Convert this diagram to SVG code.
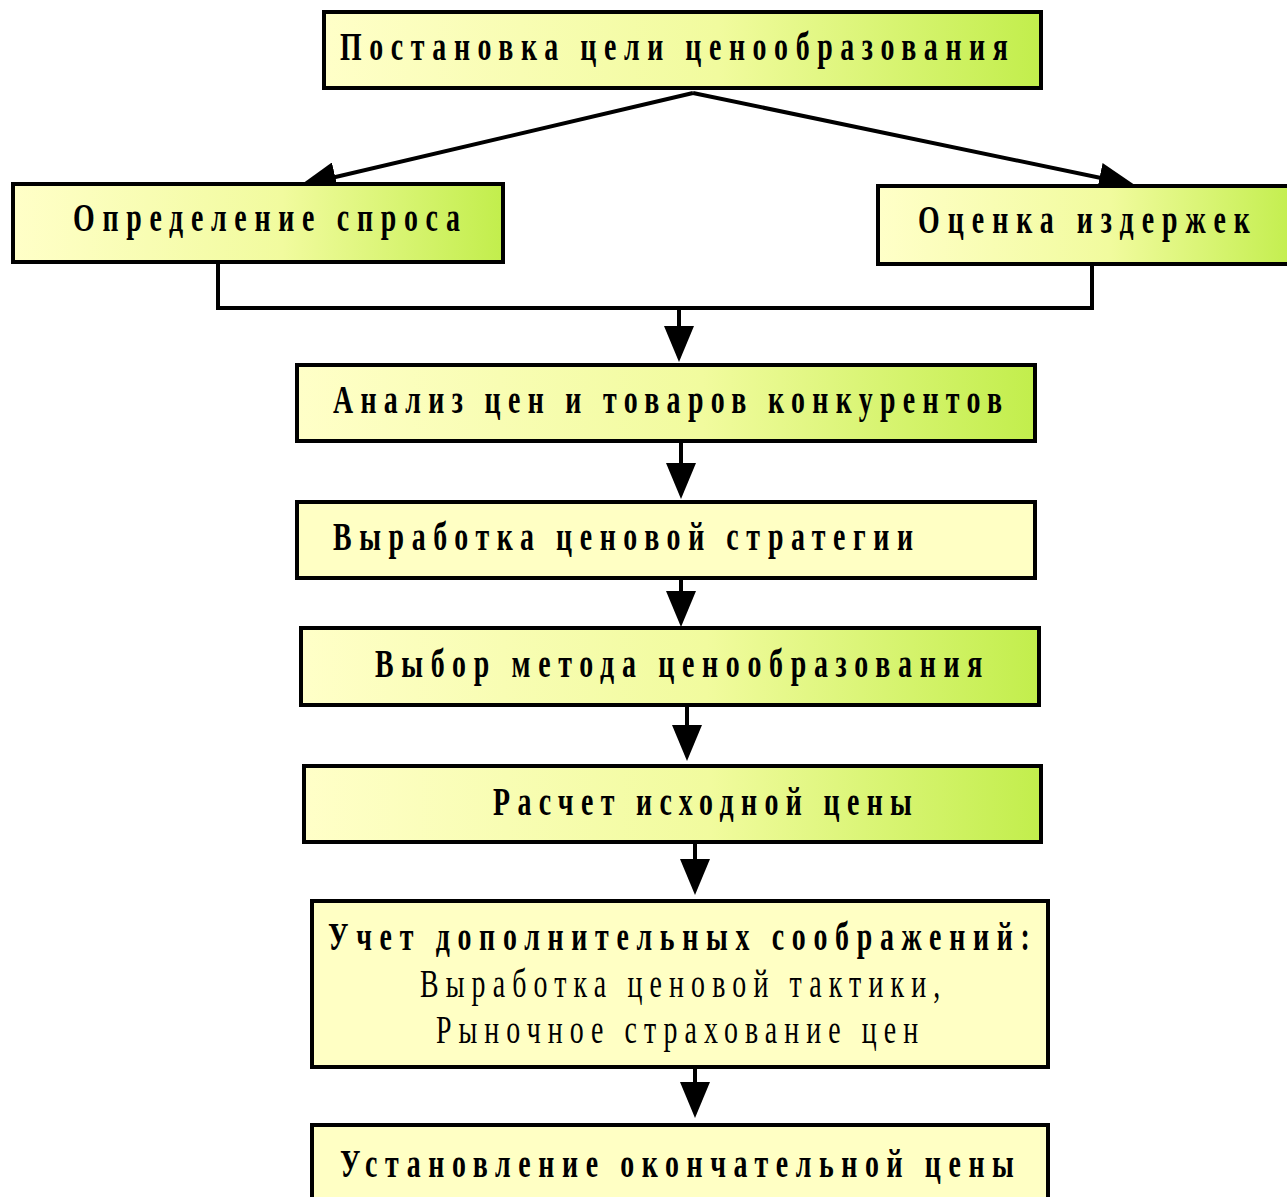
<svg xmlns="http://www.w3.org/2000/svg" width="1287" height="1197" viewBox="0 0 1287 1197">
  <defs>
    <linearGradient id="g" x1="0" y1="0" x2="1" y2="0">
      <stop offset="0" stop-color="#ffffc8"/>
      <stop offset="0.55" stop-color="#f1fb9e"/>
      <stop offset="1" stop-color="#c2ee4c"/>
    </linearGradient>
    <marker id="ah" viewBox="0 0 36 30" refX="26" refY="15" markerWidth="36" markerHeight="30" markerUnits="userSpaceOnUse" orient="auto">
      <path d="M0,0 L36,15 L0,30 z" fill="#000"/>
    </marker>
    <style>
      .box { stroke: #000; stroke-width: 4; }
      .gr { fill: url(#g); }
      .pl { fill: #ffffc4; }
      .t { font-family: "Liberation Serif", "DejaVu Serif", serif; font-size: 41px; font-weight: bold; fill: #000; }
      .n { font-weight: normal; }
      .c { stroke: #000; stroke-width: 4; fill: none; }
      .a { marker-end: url(#ah); }
    </style>
  </defs>

  <g id="connectors">
    <line class="c a" x1="693" y1="93" x2="310" y2="183"/>
    <line class="c a" x1="693" y1="93" x2="1125" y2="183"/>
    <polyline class="c" points="218,263 218,308 1092,308 1092,265"/>
    <line class="c a" x1="679" y1="308" x2="679" y2="352"/>
    <line class="c a" x1="681" y1="442" x2="681" y2="489"/>
    <line class="c a" x1="681" y1="579" x2="681" y2="617"/>
    <line class="c a" x1="687" y1="706" x2="687" y2="751"/>
    <line class="c a" x1="695" y1="843" x2="695" y2="885"/>
    <line class="c a" x1="695" y1="1066" x2="695" y2="1108"/>
  </g>

  <g id="n1">
    <rect class="box gr" x="324" y="12" width="717" height="76"/>
    <text class="t" transform="translate(340,60) scale(0.68,1)" textLength="982" lengthAdjust="spacing">Постановка цели ценообразования</text>
  </g>
  <g id="n2">
    <rect class="box gr" x="13" y="184" width="490" height="78"/>
    <text class="t" transform="translate(73,231) scale(0.68,1)" textLength="569" lengthAdjust="spacing">Определение спроса</text>
  </g>
  <g id="n3">
    <rect class="box gr" x="878" y="186" width="420" height="78"/>
    <text class="t" transform="translate(918,233) scale(0.68,1)" textLength="488" lengthAdjust="spacing">Оценка издержек</text>
  </g>
  <g id="n4">
    <rect class="box gr" x="297" y="365" width="738" height="76"/>
    <text class="t" transform="translate(333,413) scale(0.68,1)" textLength="984" lengthAdjust="spacing">Анализ цен и товаров конкурентов</text>
  </g>
  <g id="n5">
    <rect class="box pl" x="297" y="502" width="738" height="76"/>
    <text class="t" transform="translate(333,550) scale(0.68,1)" textLength="853" lengthAdjust="spacing">Выработка ценовой стратегии</text>
  </g>
  <g id="n6">
    <rect class="box gr" x="301" y="628" width="738" height="77"/>
    <text class="t" transform="translate(375,677) scale(0.68,1)" textLength="893" lengthAdjust="spacing">Выбор метода ценообразования</text>
  </g>
  <g id="n7">
    <rect class="box gr" x="304" y="766" width="737" height="76"/>
    <text class="t" transform="translate(493,815) scale(0.68,1)" textLength="616" lengthAdjust="spacing">Расчет исходной цены</text>
  </g>
  <g id="n8">
    <rect class="box pl" x="312" y="901" width="736" height="166"/>
    <text class="t" transform="translate(328,950) scale(0.68,1)" textLength="1032" lengthAdjust="spacing">Учет дополнительных соображений:</text>
    <text class="t n" transform="translate(420,997) scale(0.68,1)" textLength="765" lengthAdjust="spacing">Выработка ценовой тактики,</text>
    <text class="t n" transform="translate(436,1043) scale(0.68,1)" textLength="709" lengthAdjust="spacing">Рыночное страхование цен</text>
  </g>
  <g id="n9">
    <rect class="box pl" x="312" y="1125" width="736" height="90"/>
    <text class="t" transform="translate(340,1177) scale(0.68,1)" textLength="991" lengthAdjust="spacing">Установление окончательной цены</text>
  </g>
</svg>
